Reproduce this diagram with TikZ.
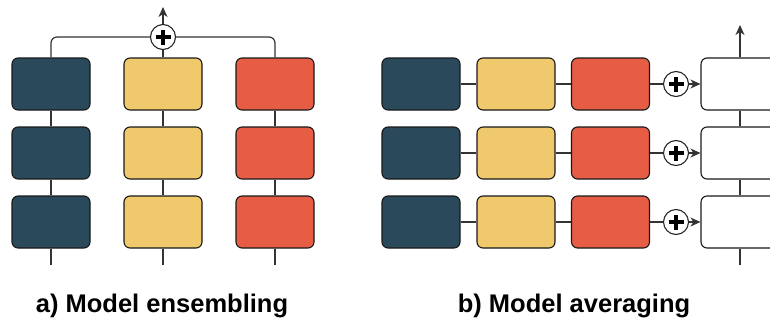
\documentclass[tikz,border=0pt]{standalone}
\usepackage{fontspec}
\setmainfont{Liberation Sans}
\usetikzlibrary{shapes.geometric, arrows, arrows.meta, positioning, calc}
\definecolor{darkblock}{HTML}{2A4A5B}
\definecolor{yellowblock}{HTML}{EFC96C}
\definecolor{redblock}{HTML}{E65C45}
\tikzstyle{block} = [rectangle, rounded corners=6pt, minimum width=78pt, minimum height=52pt, draw=black!90, line width=1.1pt, inner sep=0pt]
\tikzstyle{sumnode} = [circle, minimum size=25pt, draw=black!85, line width=1.1pt, fill=white, inner sep=0pt,
  path picture={\draw[line width=3.4pt, black] ($(path picture bounding box.center)+(-7.5pt,0)$) -- ($(path picture bounding box.center)+(7.5pt,0)$)
    ($(path picture bounding box.center)+(0,-7.5pt)$) -- ($(path picture bounding box.center)+(0,7.5pt)$);}]
\tikzstyle{line} = [line width=1.2pt, draw=black!80]
\tikzstyle{arrow} = [line width=1.2pt, draw=black!80, -{Stealth[length=10pt, width=9pt, inset=3pt]}]
\tikzstyle{caption} = [font=\fontsize{25.5}{28}\selectfont\bfseries, anchor=base]

\begin{document}
\begin{tikzpicture}[x=1pt, y=-1pt]
\useasboundingbox (0, 0) rectangle (770, 322);
\clip (0, 0) rectangle (770, 322);

  % a) model ensembling
  \coordinate (ens) at (51, 84);
  \node[block, fill=darkblock] (e11) at (ens) {};
  \node[block, fill=yellowblock] (e12) at ($(ens) + (112, 0)$) {};
  \node[block, fill=redblock] (e13) at ($(ens) + (224, 0)$) {};
  \node[block, fill=darkblock] (e21) at ($(ens) + (0, 69)$) {};
  \node[block, fill=yellowblock] (e22) at ($(ens) + (112, 69)$) {};
  \node[block, fill=redblock] (e23) at ($(ens) + (224, 69)$) {};
  \node[block, fill=darkblock] (e31) at ($(ens) + (0, 138)$) {};
  \node[block, fill=yellowblock] (e32) at ($(ens) + (112, 138)$) {};
  \node[block, fill=redblock] (e33) at ($(ens) + (224, 138)$) {};

  \node[sumnode] (esum) at ($(ens) + (112, -47)$) {};
  \coordinate (eout) at ($(ens) + (112, -77)$);
  \coordinate (eend1) at ($(ens) + (0, 181)$);
  \coordinate (eend2) at ($(ens) + (112, 181)$);
  \coordinate (eend3) at ($(ens) + (224, 181)$);

  \draw[line, rounded corners=6pt] (e11.north) |- (esum.west);
  \draw[line, rounded corners=6pt] (e13.north) |- (esum.east);
  \draw[line] (e12.north) -- (esum.south);
  \draw[arrow] (esum.north) -- (eout);
  \draw[line] (e11.south) -- (e21.north);
  \draw[line] (e21.south) -- (e31.north);
  \draw[line] (e31.south) -- (eend1);
  \draw[line] (e12.south) -- (e22.north);
  \draw[line] (e22.south) -- (e32.north);
  \draw[line] (e32.south) -- (eend2);
  \draw[line] (e13.south) -- (e23.north);
  \draw[line] (e23.south) -- (e33.north);
  \draw[line] (e33.south) -- (eend3);

  \node[caption] (ecap) at (162, 312) {a) Model ensembling};

  % b) model averaging
  \coordinate (avg) at (421, 84);
  \node[block, fill=darkblock] (a11) at (avg) {};
  \node[block, fill=yellowblock] (a12) at ($(avg) + (95, 0)$) {};
  \node[block, fill=redblock] (a13) at ($(avg) + (189.5, 0)$) {};
  \node[sumnode] (asum1) at ($(avg) + (255, 0)$) {};
  \node[block, fill=white] (aw1) at ($(avg) + (319, 0)$) {};
  \node[block, fill=darkblock] (a21) at ($(avg) + (0, 69)$) {};
  \node[block, fill=yellowblock] (a22) at ($(avg) + (95, 69)$) {};
  \node[block, fill=redblock] (a23) at ($(avg) + (189.5, 69)$) {};
  \node[sumnode] (asum2) at ($(avg) + (255, 69)$) {};
  \node[block, fill=white] (aw2) at ($(avg) + (319, 69)$) {};
  \node[block, fill=darkblock] (a31) at ($(avg) + (0, 138)$) {};
  \node[block, fill=yellowblock] (a32) at ($(avg) + (95, 138)$) {};
  \node[block, fill=redblock] (a33) at ($(avg) + (189.5, 138)$) {};
  \node[sumnode] (asum3) at ($(avg) + (255, 138)$) {};
  \node[block, fill=white] (aw3) at ($(avg) + (319, 138)$) {};

  \coordinate (aout) at ($(avg) + (319, -59)$);
  \coordinate (aend) at ($(avg) + (319, 181)$);

  \draw[line] (a11.east) -- (a12.west);
  \draw[line] (a12.east) -- (a13.west);
  \draw[line] (a13.east) -- (asum1.west);
  \draw[arrow] (asum1.east) -- (aw1.west);
  \draw[line] (a21.east) -- (a22.west);
  \draw[line] (a22.east) -- (a23.west);
  \draw[line] (a23.east) -- (asum2.west);
  \draw[arrow] (asum2.east) -- (aw2.west);
  \draw[line] (a31.east) -- (a32.west);
  \draw[line] (a32.east) -- (a33.west);
  \draw[line] (a33.east) -- (asum3.west);
  \draw[arrow] (asum3.east) -- (aw3.west);
  \draw[arrow] (aw1.north) -- (aout);
  \draw[line] (aw1.south) -- (aw2.north);
  \draw[line] (aw2.south) -- (aw3.north);
  \draw[line] (aw3.south) -- (aend);

  \node[caption] (acap) at (574, 312) {b) Model averaging};

\end{tikzpicture}
\end{document}
